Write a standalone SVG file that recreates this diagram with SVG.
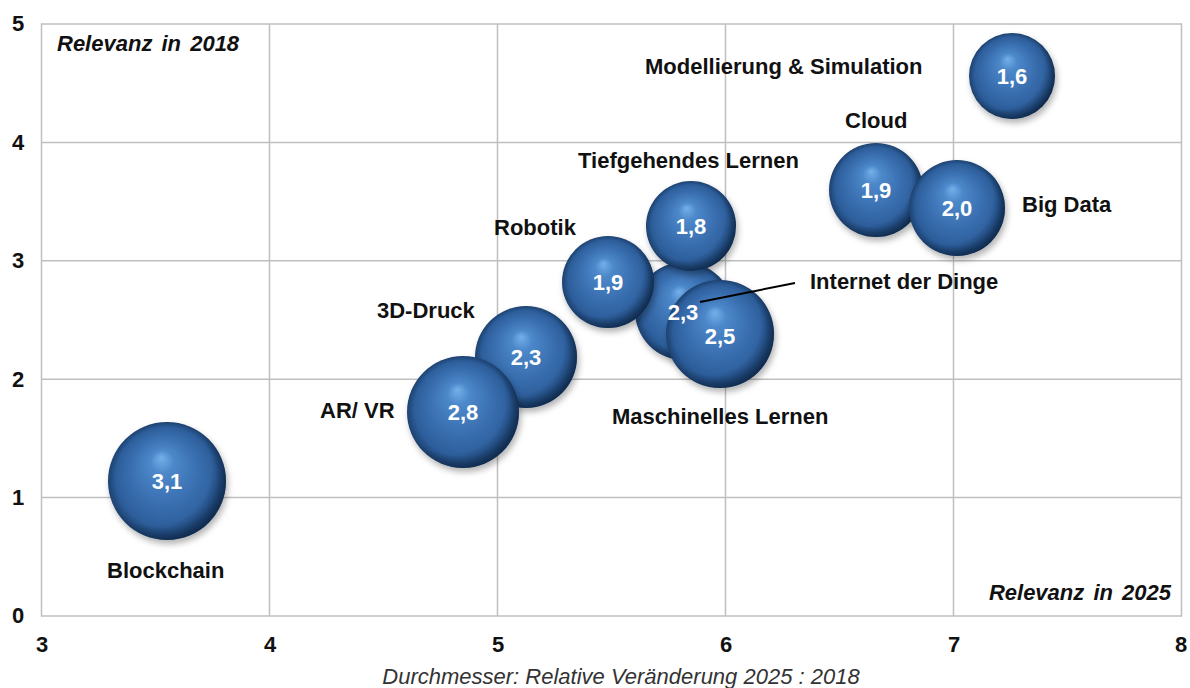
<svg xmlns="http://www.w3.org/2000/svg" width="1190" height="688" viewBox="0 0 1190 688">
<style>
.grid{stroke:#bfbfbf;stroke-width:1.5;fill:none}
.tick{font-family:"Liberation Sans",Arial,sans-serif;font-size:22px;font-weight:bold;fill:#111111;text-anchor:middle}
.lbl{font-family:"Liberation Sans",Arial,sans-serif;font-size:22px;font-weight:bold;fill:#111111}
.val{font-family:"Liberation Sans",Arial,sans-serif;font-size:22px;font-weight:bold;fill:#ffffff;text-anchor:middle}
.corner{font-family:"Liberation Sans",Arial,sans-serif;font-size:22px;font-weight:bold;font-style:italic;fill:#111111;word-spacing:3px}
.title{font-family:"Liberation Sans",Arial,sans-serif;font-size:22px;font-style:italic;fill:#333333;text-anchor:middle}
.ball{fill:url(#sphere);filter:url(#shadow)}
.shade{fill:url(#edge)}
</style>
<defs>
<radialGradient id="sphere" cx="0.5" cy="0.5" r="0.5" fx="0.45" fy="0.3">
<stop offset="0" stop-color="#74b0ea"/>
<stop offset="0.2" stop-color="#4c88ca"/>
<stop offset="0.55" stop-color="#3a70b1"/>
<stop offset="0.85" stop-color="#2d5e9b"/>
<stop offset="1" stop-color="#1d416f"/>
</radialGradient>
<radialGradient id="edge" cx="0.4" cy="0.4" r="0.68">
<stop offset="0" stop-color="#061a33" stop-opacity="0"/>
<stop offset="0.7" stop-color="#061a33" stop-opacity="0"/>
<stop offset="1" stop-color="#061a33" stop-opacity="0.75"/>
</radialGradient>
<filter id="shadow" x="-20%" y="-20%" width="150%" height="150%">
<feDropShadow dx="2" dy="4" stdDeviation="3" flood-color="#000" flood-opacity="0.3"/>
</filter>
</defs>
<rect width="1190" height="688" fill="#ffffff"/>
<g id="grid">
<rect class="grid" x="41.5" y="24" width="1140" height="592"/>
<line class="grid" x1="269.5" y1="24" x2="269.5" y2="616"/>
<line class="grid" x1="497.5" y1="24" x2="497.5" y2="616"/>
<line class="grid" x1="725.5" y1="24" x2="725.5" y2="616"/>
<line class="grid" x1="953.5" y1="24" x2="953.5" y2="616"/>
<line class="grid" x1="41.5" y1="142.4" x2="1181.5" y2="142.4"/>
<line class="grid" x1="41.5" y1="260.8" x2="1181.5" y2="260.8"/>
<line class="grid" x1="41.5" y1="379.2" x2="1181.5" y2="379.2"/>
<line class="grid" x1="41.5" y1="497.6" x2="1181.5" y2="497.6"/>
</g>
<g id="axes">
<text class="tick" x="18" y="31">5</text>
<text class="tick" x="18" y="150">4</text>
<text class="tick" x="18" y="268">3</text>
<text class="tick" x="18" y="387">2</text>
<text class="tick" x="18" y="505">1</text>
<text class="tick" x="18" y="623">0</text>
<text class="tick" x="42" y="652">3</text>
<text class="tick" x="270" y="652">4</text>
<text class="tick" x="498" y="652">5</text>
<text class="tick" x="726" y="652">6</text>
<text class="tick" x="954" y="652">7</text>
<text class="tick" x="1181" y="652">8</text>
<text class="corner" x="57" y="51">Relevanz in 2018</text>
<text class="corner" x="1171" y="600" text-anchor="end">Relevanz in 2025</text>
<text class="title" x="621" y="684">Durchmesser: Relative Veränderung 2025 : 2018</text>
</g>
<g id="node-blockchain">
<circle class="ball" cx="167" cy="481" r="59"/>
<circle class="shade" cx="167" cy="481" r="59"/>
<text class="val" x="167" y="489">3,1</text>
<text class="lbl" x="107" y="578">Blockchain</text>
</g>
<g id="node-3d-druck">
<circle class="ball" cx="526" cy="357" r="51"/>
<circle class="shade" cx="526" cy="357" r="51"/>
<text class="val" x="526" y="365">2,3</text>
<text class="lbl" x="377" y="318">3D-Druck</text>
</g>
<g id="node-ar-vr">
<circle class="ball" cx="463" cy="412" r="56"/>
<circle class="shade" cx="463" cy="412" r="56"/>
<text class="val" x="463" y="420">2,8</text>
<text class="lbl" x="320" y="418">AR/ VR</text>
</g>
<g id="node-internet-der-dinge">
<circle class="ball" cx="684" cy="311" r="49"/>
<circle class="shade" cx="684" cy="311" r="49"/>
<text class="lbl" x="810" y="289">Internet der Dinge</text>
</g>
<g id="node-robotik">
<circle class="ball" cx="608" cy="282" r="46"/>
<circle class="shade" cx="608" cy="282" r="46"/>
<text class="val" x="608" y="290">1,9</text>
<text class="lbl" x="494" y="235">Robotik</text>
</g>
<g id="node-tiefgehendes-lernen">
<circle class="ball" cx="691" cy="226" r="45"/>
<circle class="shade" cx="691" cy="226" r="45"/>
<text class="val" x="691" y="234">1,8</text>
<text class="lbl" x="578" y="168">Tiefgehendes Lernen</text>
</g>
<g id="node-maschinelles-lernen">
<circle class="ball" cx="720" cy="334" r="54"/>
<circle class="shade" cx="720" cy="334" r="54"/>
<text class="val" x="720" y="344">2,5</text>
<text class="lbl" x="612" y="424">Maschinelles Lernen</text>
</g>
<g id="node-internet-der-dinge-value">
<text class="val" x="683" y="320">2,3</text>
</g>
<g id="node-cloud">
<circle class="ball" cx="876" cy="190" r="47"/>
<circle class="shade" cx="876" cy="190" r="47"/>
<text class="val" x="876" y="198">1,9</text>
<text class="lbl" x="845" y="128">Cloud</text>
</g>
<g id="node-big-data">
<circle class="ball" cx="957" cy="208" r="48"/>
<circle class="shade" cx="957" cy="208" r="48"/>
<text class="val" x="957" y="216">2,0</text>
<text class="lbl" x="1022" y="212">Big Data</text>
</g>
<g id="node-modellierung">
<circle class="ball" cx="1012" cy="76" r="43"/>
<circle class="shade" cx="1012" cy="76" r="43"/>
<text class="val" x="1012" y="84">1,6</text>
<text class="lbl" x="645" y="74">Modellierung &amp; Simulation</text>
</g>
<g id="connectors">
<line x1="700" y1="302" x2="795" y2="283" stroke="#000" stroke-width="2"/>
</g>
</svg>
